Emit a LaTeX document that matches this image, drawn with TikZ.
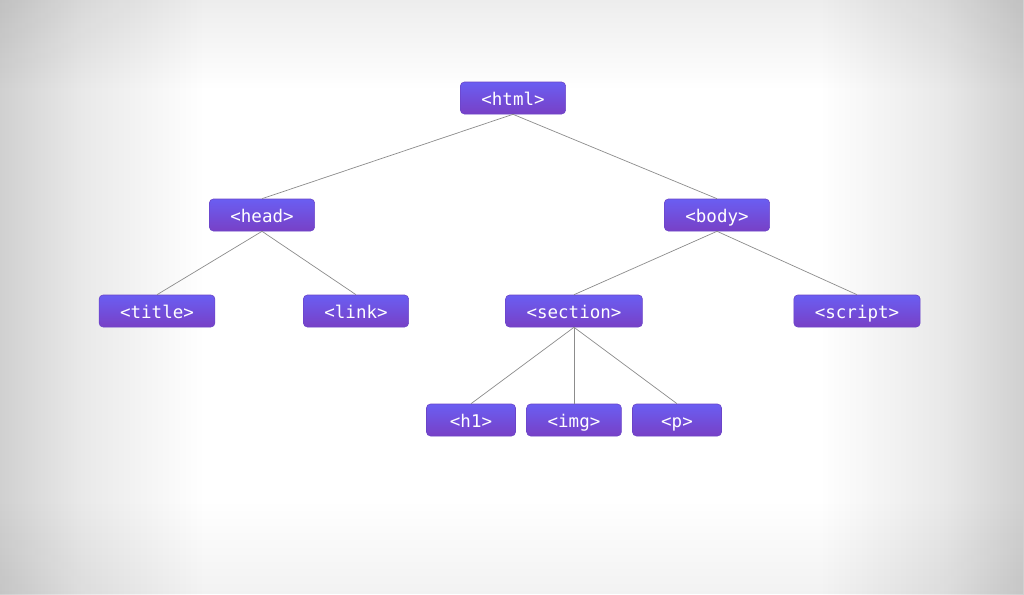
\documentclass[tikz,border=0pt]{standalone}
\usepackage{fontspec}
\usepackage{tikz}
\usepackage{xcolor}
\usetikzlibrary{fadings}
\newfontfamily\tagfont{DejaVu Sans Mono}
\definecolor{vtop}{HTML}{6A5EF2}
\definecolor{vbot}{HTML}{7840C6}
\definecolor{vline}{HTML}{6A44C8}
\definecolor{vwire}{HTML}{8C8C8C}
\definecolor{vedge}{HTML}{D0D0D0}
\definecolor{vmid}{HTML}{E9E9E9}
\pgfdeclarehorizontalshading{sideshade}{100bp}{color(0bp)=(vedge); color(25bp)=(vedge); color(29bp)=(vmid); color(35bp)=(white); color(65bp)=(white); color(71bp)=(vmid); color(75bp)=(vedge); color(100bp)=(vedge)}

\begin{document}
\begin{tikzpicture}[x=1pt, y=-1pt,
		tag/.style = {draw = vline, line width = .6pt, rounded corners = 4pt, top color = vtop, bottom color = vbot, text = white, font = \tagfont\fontsize{17.5}{20}\selectfont, minimum height = 32pt, minimum width = 89pt, inner xsep = 21pt, inner ysep = 0pt, text height = 14pt, text depth = 0pt},
		wire/.style = {draw = vwire, line width = .7pt}]
		\useasboundingbox (0,0) rectangle (1024,594);
		% background
		\shade[shading = sideshade] (0,0) rectangle (1024,594);
		\fill[black, opacity = .07, path fading = south] (0,0) rectangle (1024,90);
		\fill[black, opacity = .05, path fading = north] (0,500) rectangle (1024,594);
		% tags
		\node[tag] (html) at (513,98) {<html>};
		\node[tag] (head) at (262,215) {<head>};
		\node[tag] (body) at (717,215) {<body>};
		\node[tag] (title) at (157,311) {<title>};
		\node[tag] (link) at (356,311) {<link>};
		\node[tag] (section) at (574,311) {<section>};
		\node[tag] (script) at (857,311) {<script>};
		\node[tag] (h1) at (471,420) {<h1>};
		\node[tag] (img) at (574,420) {<img>};
		\node[tag] (p) at (677,420) {<p>};
		% wires
		\draw[wire] (html.south) -- (head.north);
		\draw[wire] (html.south) -- (body.north);
		\draw[wire] (head.south) -- (title.north);
		\draw[wire] (head.south) -- (link.north);
		\draw[wire] (body.south) -- (section.north);
		\draw[wire] (body.south) -- (script.north);
		\draw[wire] (section.south) -- (h1.north);
		\draw[wire] (section.south) -- (img.north);
		\draw[wire] (section.south) -- (p.north);
\end{tikzpicture}
\end{document}
